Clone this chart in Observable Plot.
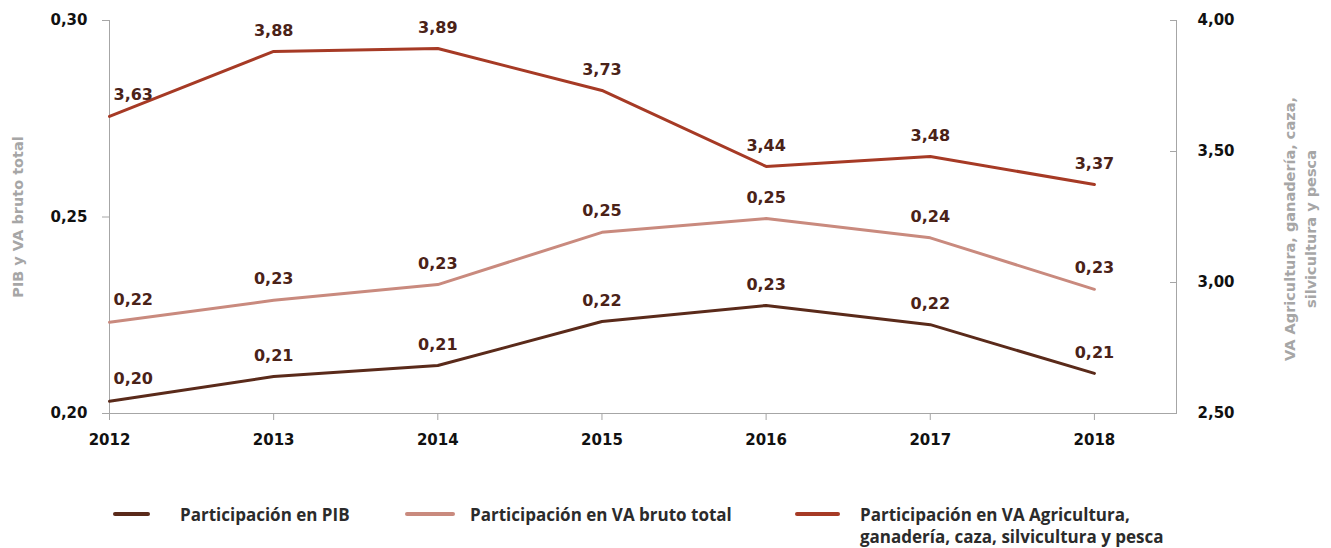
<!DOCTYPE html>
<html><head><meta charset="utf-8">
<script src="https://cdn.jsdelivr.net/npm/d3@7"></script>
<script src="https://cdn.jsdelivr.net/npm/@observablehq/plot@0.6"></script>
<style>
body{margin:0;background:#fff;font-family:"DejaVu Sans",sans-serif;}
#wrap{position:relative;width:1331px;height:548px;overflow:hidden;}
#wrap svg{position:absolute;left:0;top:0;}
.leg{position:absolute;font-family:"Open Sans",sans-serif;font-weight:700;font-size:17px;color:#2b2b2b;line-height:22px;white-space:nowrap;}
.sw{position:absolute;height:4px;border-radius:2px;}
</style></head><body><div id="wrap"></div>
<script>
// ---- data ----
const years = [2012, 2013, 2014, 2015, 2016, 2017, 2018];
const pib = [0.2031, 0.2094, 0.2122, 0.2234, 0.2275, 0.2226, 0.2102];
const vaTotal = [0.2232, 0.2288, 0.2328, 0.2461, 0.2496, 0.2447, 0.2316];
const vaAgri = [3.634, 3.882, 3.893, 3.733, 3.443, 3.481, 3.374];
const leftTicks = [0.20, 0.25, 0.30];
const rightTicks = [2.50, 3.00, 3.50, 4.00];
const seriesKeys = ["PIB", "VA", "AG"];
const seriesNames = ["Participación en PIB", "Participación en VA bruto total", "Participación en VA Agricultura,\nganadería, caza, silvicultura y pesca"];
const leftTitle = "PIB y VA bruto total";
const rightTitle = "VA Agricultura, ganadería, caza,\nsilvicultura y pesca";

// ---- styles ----
const colors = ["#5a2a1a", "#c98a7e", "#a63a25"];
const axisGray = "#a6a6a6";
const labelColor = "#4a2218";

const rMin = 2.5, rMax = 4.0, lMin = 0.20, lMax = 0.30;
const toLeft = v => lMin + (v - rMin) * (lMax - lMin) / (rMax - rMin);
const fromLeft = v => rMin + (v - lMin) * (rMax - rMin) / (lMax - lMin);
const fmt = v => v.toFixed(2).replace(".", ",");

const rows = years.flatMap((yr, i) => [
  {year: yr, s: "PIB", v: pib[i], yv: pib[i]},
  {year: yr, s: "VA", v: vaTotal[i], yv: vaTotal[i]},
  {year: yr, s: "AG", v: vaAgri[i], yv: toLeft(vaAgri[i])}
]);
const first = rows.filter(d => d.year === years[0]);
const rest = rows.filter(d => d.year !== years[0]);

const tickStyle = {fontSize: 15, fontWeight: "bold"};
const labelStyle = {fontSize: 16, fontWeight: "bold"};
const titleStyle = {fontSize: 14.5, fontWeight: "bold", fill: axisGray, textAnchor: "middle", lineAnchor: "middle"};

const chart = Plot.plot({
  width: 1331, height: 470,
  marginLeft: 109, marginRight: 155, marginTop: 20, marginBottom: 57,
  style: {fontFamily: "'DejaVu Sans', sans-serif", background: "transparent", overflow: "visible"},
  x: {type: "linear", domain: [2012, 2018.5]},
  y: {domain: [lMin, lMax]},
  color: {domain: seriesKeys, range: colors},
  marks: [
    Plot.ruleX([2012, 2018.5], {stroke: axisGray, strokeWidth: 1}),
    Plot.ruleY([lMin], {stroke: axisGray, strokeWidth: 1}),
    Plot.axisX({ticks: years, tickFormat: d => String(d), tickSize: 7, tickPadding: 14, stroke: axisGray, fill: "#111", label: null, ...tickStyle}),
    Plot.axisY({anchor: "left", ticks: leftTicks, tickFormat: fmt, tickSize: 7, tickPadding: 15, stroke: axisGray, fill: "#111", label: null, ...tickStyle}),
    Plot.axisY({anchor: "right", ticks: rightTicks.map(toLeft), tickFormat: d => fmt(fromLeft(d)), tickSize: 7, dx: -7, tickPadding: 21, stroke: axisGray, fill: "#111", label: null, ...tickStyle}),
    Plot.line(rows, {x: "year", y: "yv", z: "s", stroke: "s", strokeWidth: 3}),
    Plot.text(rest, {x: "year", y: "yv", text: d => fmt(d.v), dy: -21, fill: labelColor, ...labelStyle}),
    Plot.text(first, {x: "year", y: "yv", text: d => fmt(d.v), dy: -22, dx: 4, textAnchor: "start", fill: labelColor, ...labelStyle}),
    Plot.text([leftTitle], {text: d => d, frameAnchor: "left", rotate: -90, dx: -91, ...titleStyle}),
    Plot.text([rightTitle], {text: d => d, frameAnchor: "right", rotate: -90, dx: 122, dy: 12, lineHeight: 1.45, ...titleStyle})
  ]
});

const wrap = document.getElementById("wrap");
wrap.appendChild(chart);

// ---- legend ----
const legPos = [
  {sx: 113, sw: 37, tx: 180},
  {sx: 405, sw: 50, tx: 470},
  {sx: 795, sw: 45, tx: 860}
];
seriesNames.forEach((name, i) => {
  const sw = document.createElement("div");
  sw.className = "sw";
  sw.style.left = legPos[i].sx + "px";
  sw.style.width = legPos[i].sw + "px";
  sw.style.top = "512px";
  sw.style.background = colors[i];
  wrap.appendChild(sw);
  const t = document.createElement("div");
  t.className = "leg";
  t.style.left = legPos[i].tx + "px";
  t.style.top = "504px";
  t.innerHTML = name.split("\n").join("<br>");
  wrap.appendChild(t);
});
</script></body></html>
